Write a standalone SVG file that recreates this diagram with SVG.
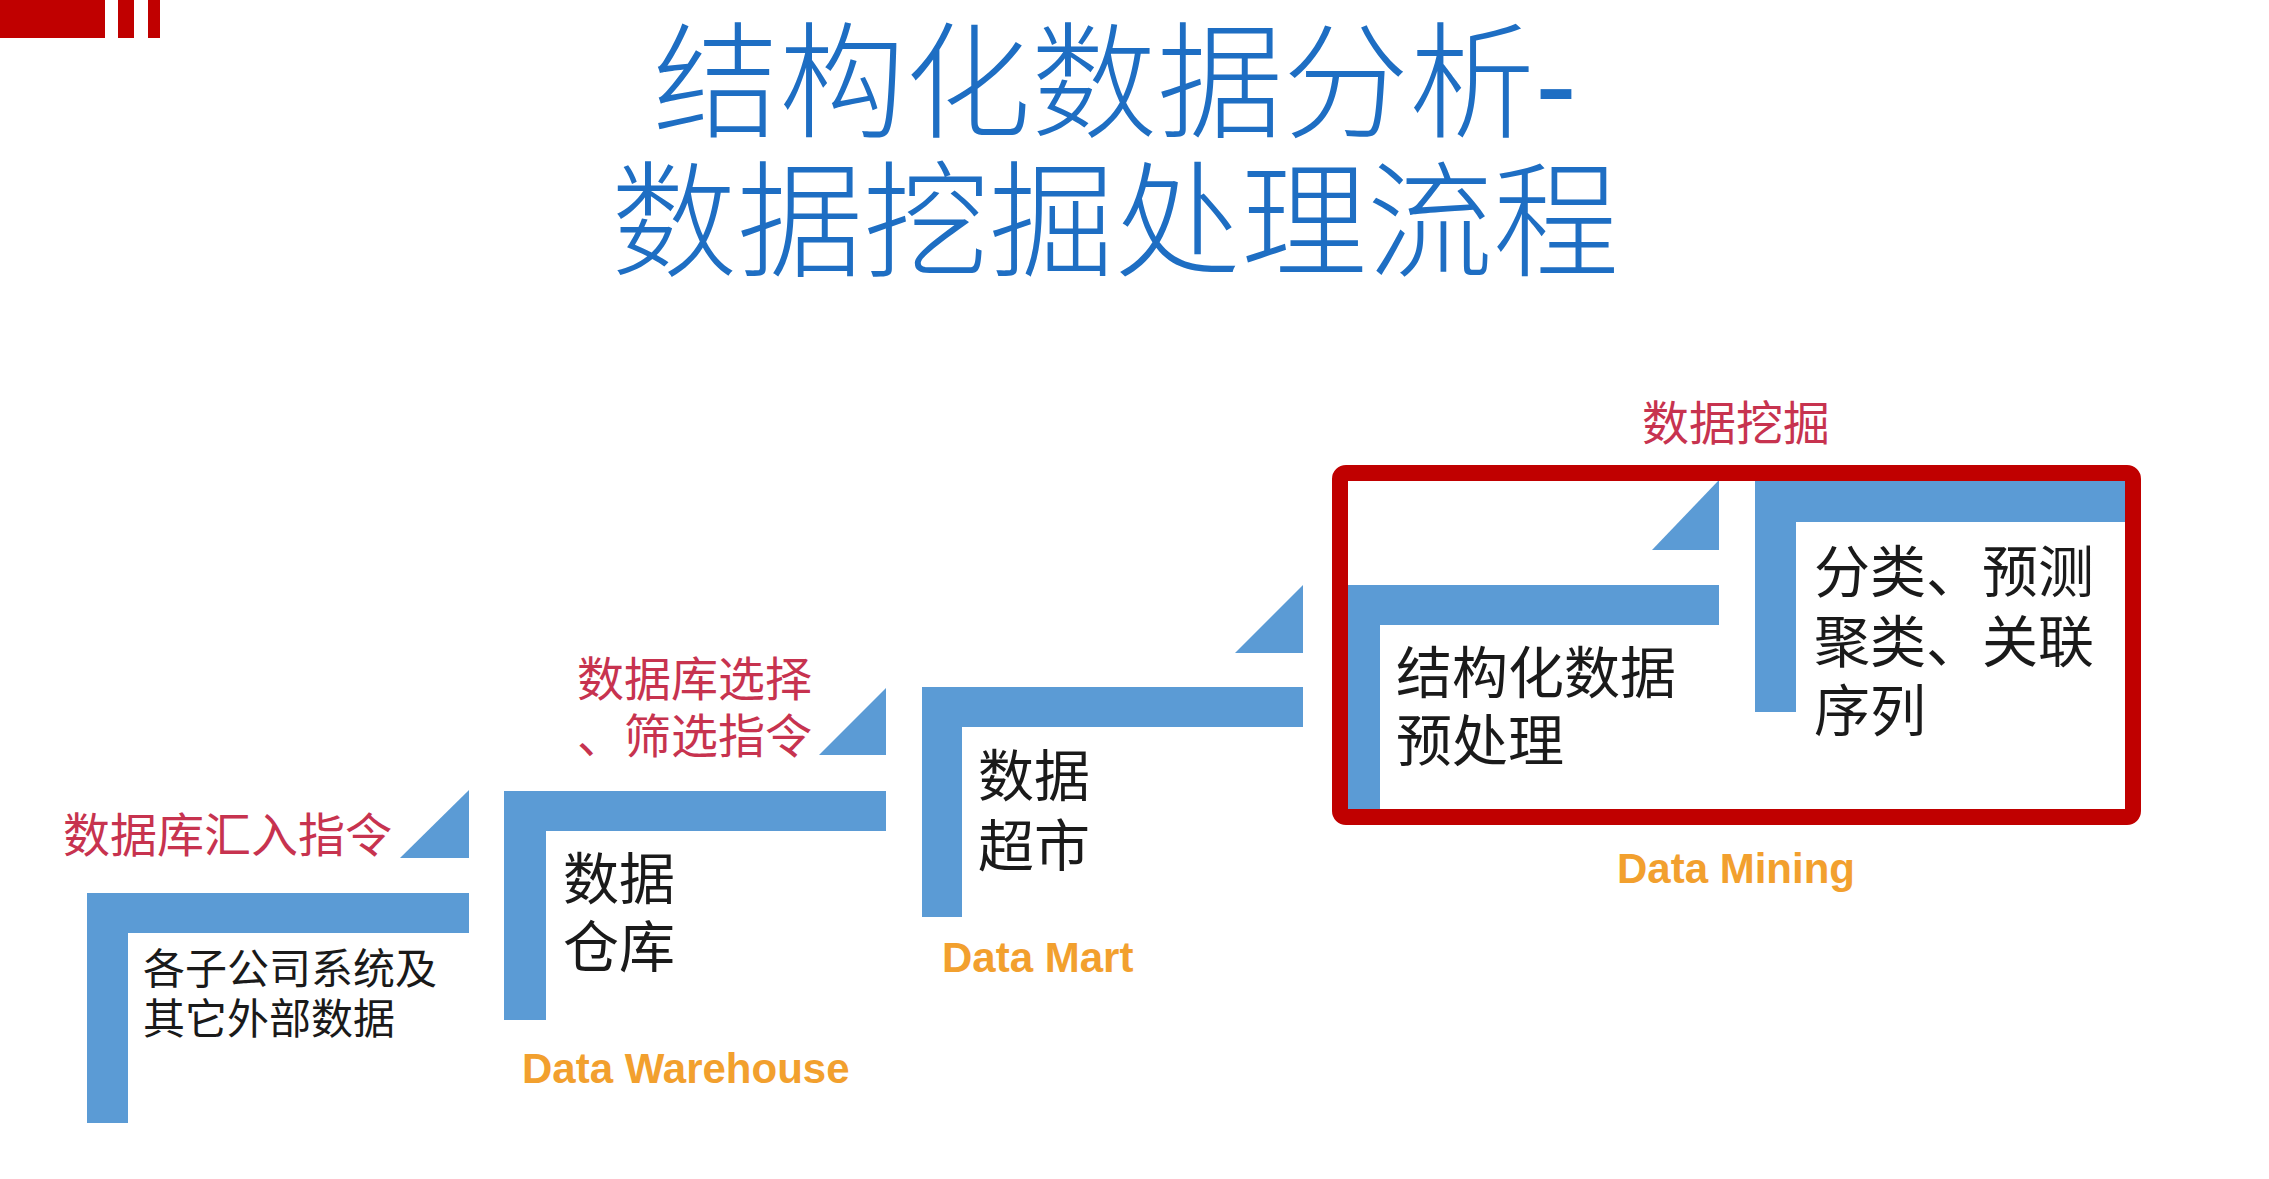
<svg xmlns="http://www.w3.org/2000/svg" width="2269" height="1179" viewBox="0 0 2269 1179">
<style>
.bar{fill:#5B9BD5}
.title{font-family:"Liberation Sans","Noto Sans CJK SC",sans-serif;font-size:126px;font-weight:300;fill:#1E6EC3;text-anchor:middle}
.red{font-family:"Liberation Sans","Noto Sans CJK SC",sans-serif;font-size:47px;fill:#C7334F}
.body{font-family:"Liberation Sans","Noto Sans CJK SC",sans-serif;fill:#1a1a1a}
.en{font-family:"Liberation Sans",Arial,sans-serif;font-weight:bold;font-size:42px;fill:#F2A02E}
</style>
<rect width="2269" height="1179" fill="#ffffff"/>
<g id="corner">
<rect x="0" y="0" width="105" height="38" fill="#C00000"/>
<rect x="118" y="0" width="16" height="38" fill="#C00000"/>
<rect x="148" y="0" width="12" height="38" fill="#C00000"/>
</g>
<g id="title">
<text class="title" x="1115" y="128">结构化数据分析-</text>
<text class="title" x="1115" y="267">数据挖掘处理流程</text>
</g>
<g id="connectors">
<polygon class="bar" points="400,858 469,858 469,790"/>
<polygon class="bar" points="819,755 886,755 886,688"/>
<polygon class="bar" points="1235,653 1303,653 1303,585"/>
<polygon class="bar" points="1652,550 1719,550 1719,480"/>
</g>
<g id="step1">
<path class="bar" d="M87,893 H469 V933 H128 V1123 H87 Z"/>
<text class="red" x="63" y="852">数据库汇入指令</text>
<text class="body" font-size="42" x="143" y="984">各子公司系统及</text>
<text class="body" font-size="42" x="143" y="1034">其它外部数据</text>
</g>
<g id="step2">
<path class="bar" d="M504,791 H886 V831 H546 V1020 H504 Z"/>
<text class="red" x="812" y="696" text-anchor="end">数据库选择</text>
<text class="red" x="812" y="753" text-anchor="end">、筛选指令</text>
<text class="body" font-size="56" x="563" y="899">数据</text>
<text class="body" font-size="56" x="563" y="967">仓库</text>
<text class="en" x="522" y="1083">Data Warehouse</text>
</g>
<g id="step3">
<path class="bar" d="M922,687 H1303 V727 H962 V917 H922 Z"/>
<text class="body" font-size="56" x="978" y="796">数据</text>
<text class="body" font-size="56" x="978" y="866">超市</text>
<text class="en" x="942" y="972">Data Mart</text>
</g>
<g id="step4">
<path class="bar" d="M1339,585 H1719 V625 H1380 V814 H1339 Z"/>
<text class="body" font-size="56" x="1396" y="693">结构化数据</text>
<text class="body" font-size="56" x="1396" y="761">预处理</text>
</g>
<g id="step5">
<path class="bar" d="M1755,478 H2130 V522 H1796 V712 H1755 Z"/>
<text class="body" font-size="56" x="1814" y="592">分类、预测</text>
<text class="body" font-size="56" x="1814" y="662">聚类、关联</text>
<text class="body" font-size="56" x="1814" y="731">序列</text>
</g>
<g id="mining">
<rect x="1340" y="473" width="793" height="344" rx="6" fill="none" stroke="#C00000" stroke-width="16"/>
<text class="red" x="1736" y="440" text-anchor="middle">数据挖掘</text>
<text class="en" x="1617" y="883">Data Mining</text>
</g>
</svg>
